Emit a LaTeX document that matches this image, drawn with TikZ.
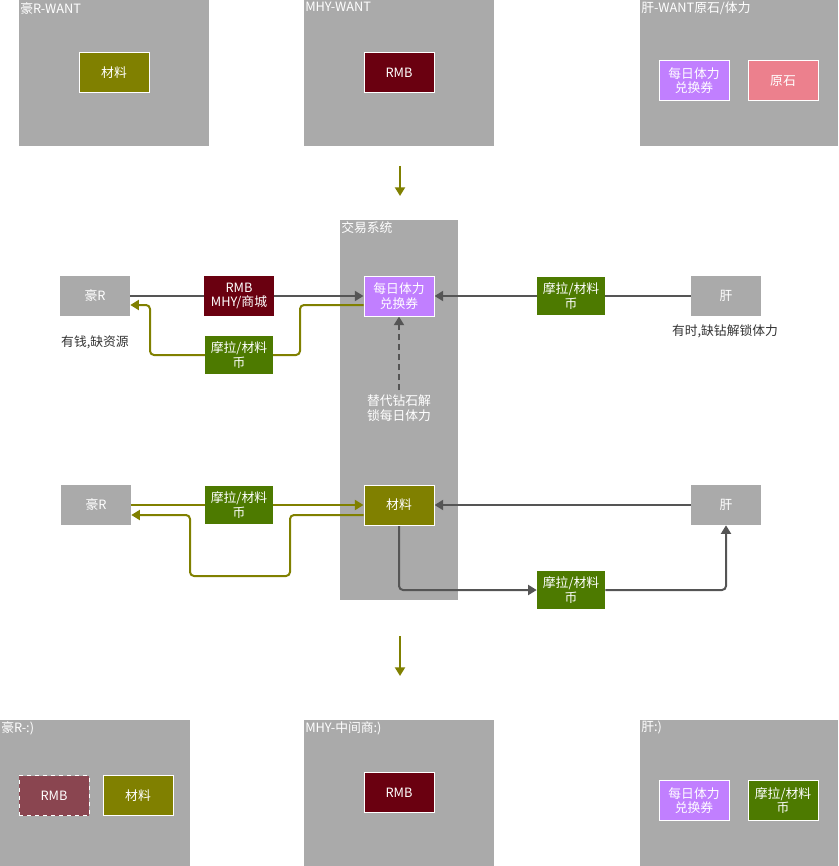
\documentclass[tikz,border=0pt]{standalone}
\usepackage{fontspec}
\setmainfont{Noto Sans CJK SC}
\usetikzlibrary{arrows.meta}
\definecolor{grp}{HTML}{AAAAAA}
\definecolor{olv}{HTML}{808000}
\definecolor{dred}{HTML}{6A0010}
\definecolor{purp}{HTML}{C17FFF}
\definecolor{pinkr}{HTML}{EC808D}
\definecolor{grn}{HTML}{4D7A00}
\definecolor{rmbd}{HTML}{8A4550}
\definecolor{lnk}{HTML}{555555}
\definecolor{note}{HTML}{333333}
\pgfdeclarelayer{grplayer}
\pgfdeclarelayer{linelayer}
\pgfsetlayers{grplayer,linelayer,main}
\tikzset{
  fnt/.style={font=\fontsize{9.6}{10.8}\selectfont},
  box/.style={fnt, text=white, minimum width=52.5pt, minimum height=30pt, inner sep=0pt, align=center},
  wb/.style={draw=white, line width=0.75pt},
  smallbox/.style={box, minimum width=51pt, minimum height=28.5pt},
  grptitle/.style={fnt, text=white, anchor=north west, inner sep=1.5pt},
  tipd/.style={-{Triangle[length=6.5pt,width=7.5pt]}},
  dk/.style={draw=lnk, line width=1.5pt, tipd},
  ol/.style={draw=olv, line width=1.5pt, tipd},
}
\begin{document}
\begin{tikzpicture}[x=0.75pt,y=-0.75pt]
\useasboundingbox (0,0) rectangle (838,866);
\begin{pgfonlayer}{grplayer}
  \fill[grp] (19,0) rectangle (209,146);
  \fill[grp] (304,0) rectangle (494,146);
  \fill[grp] (640,0) rectangle (838,146);
  \fill[grp] (340,220) rectangle (458,600);
  \fill[grp] (0,720) rectangle (190,866);
  \fill[grp] (304,720) rectangle (494,866);
  \fill[grp] (640,720) rectangle (838,866);
\end{pgfonlayer}
% group titles
\node[grptitle] (t1) at (18,0) {豪R-WANT};
\node[grptitle] (t2) at (303,0) {MHY-WANT};
\node[grptitle] (t3) at (639,0) {肝-WANT原石/体力};
\node[grptitle] (t4) at (339,219) {交易系统};
\node[grptitle] (t5) at (-1,719) {豪R-:)};
\node[grptitle] (t6) at (303,719) {MHY-中间商:)};
\node[grptitle] (t7) at (639,719) {肝:)};
% top row
\node[box, wb, fill=olv] (top1) at (114,72.5) {材料};
\node[box, wb, fill=dred] (top2) at (399,72.5) {RMB};
\node[box, wb, fill=purp] (top3) at (694,80.5) {每日体力\\兑换券};
\node[box, wb, fill=pinkr] (top4) at (783,80.5) {原石};
% middle arrows
\coordinate (da1) at (400,166);
\coordinate (db1) at (400,196);
\coordinate (da2) at (400,636);
\coordinate (db2) at (400,676);
\draw[ol] (da1) -- (db1);
\draw[ol] (da2) -- (db2);
% row 1
\node[box, fill=grp] (hr1) at (95,296) {豪R};
\node[box, fill=dred] (rmb1) at (239,296) {RMB\\MHY/商城};
\node[box, wb, fill=purp] (mr1) at (399,296) {每日体力\\兑换券};
\node[smallbox, fill=grn] (ml1) at (239,355) {摩拉/材料\\币};
\node[smallbox, fill=grn] (ml2) at (571,296) {摩拉/材料\\币};
\node[box, fill=grp] (g1) at (726,296) {肝};
\node[fnt, text=note] (n1) at (95,342) {有钱,缺资源};
\node[fnt, text=note] (n2) at (725,331) {有时,缺钻解锁体力};
\node[fnt, text=white, align=center, inner sep=0pt] (n3) at (399,408) {替代钻石解\\锁每日体力};
\coordinate (dsh) at (399,390);
\begin{pgfonlayer}{linelayer}
  \draw[dk] (hr1.east) -- (mr1.west);
  \draw[ol, rounded corners=3pt] ([yshift=-6.75pt]mr1.west) -- (300,305) -- (300,355) -- (150,355) -- (150,305) -- ([yshift=-6.75pt]hr1.east);
  \draw[dk] (g1.west) -- (mr1.east);
  \draw[dk, dashed, dash pattern=on 4.5pt off 3pt] (dsh) -- (mr1.south);
\end{pgfonlayer}
% row 2
\node[box, fill=grp] (hr2) at (96,505) {豪R};
\node[smallbox, fill=grn] (ml3) at (239,505) {摩拉/材料\\币};
\node[box, wb, fill=olv] (cl2) at (399,505) {材料};
\node[box, fill=grp] (g2) at (726,505) {肝};
\node[smallbox, fill=grn] (ml4) at (571,590) {摩拉/材料\\币};
\begin{pgfonlayer}{linelayer}
  \draw[ol] (hr2.east) -- (cl2.west);
  \draw[ol, rounded corners=3pt] ([yshift=-7.5pt]cl2.west) -- (290,515) -- (290,576) -- (190,576) -- (190,515) -- ([yshift=-7.5pt]hr2.east);
  \draw[dk] (g2.west) -- (cl2.east);
  \draw[dk, rounded corners=3pt] (cl2.south) |- (ml4.west);
  \draw[dk, rounded corners=3pt] (ml4.east) -| (g2.south);
\end{pgfonlayer}
% bottom row
\node[box, draw=white, dashed, line width=0.75pt, fill=rmbd] (b1) at (54,795.5) {RMB};
\node[box, wb, fill=olv] (b2) at (138,795.5) {材料};
\node[box, wb, fill=dred] (b3) at (399,792.5) {RMB};
\node[box, wb, fill=purp] (b4) at (694,800.5) {每日体力\\兑换券};
\node[box, wb, fill=grn] (b5) at (783,800.5) {摩拉/材料\\币};
\end{tikzpicture}
\end{document}
